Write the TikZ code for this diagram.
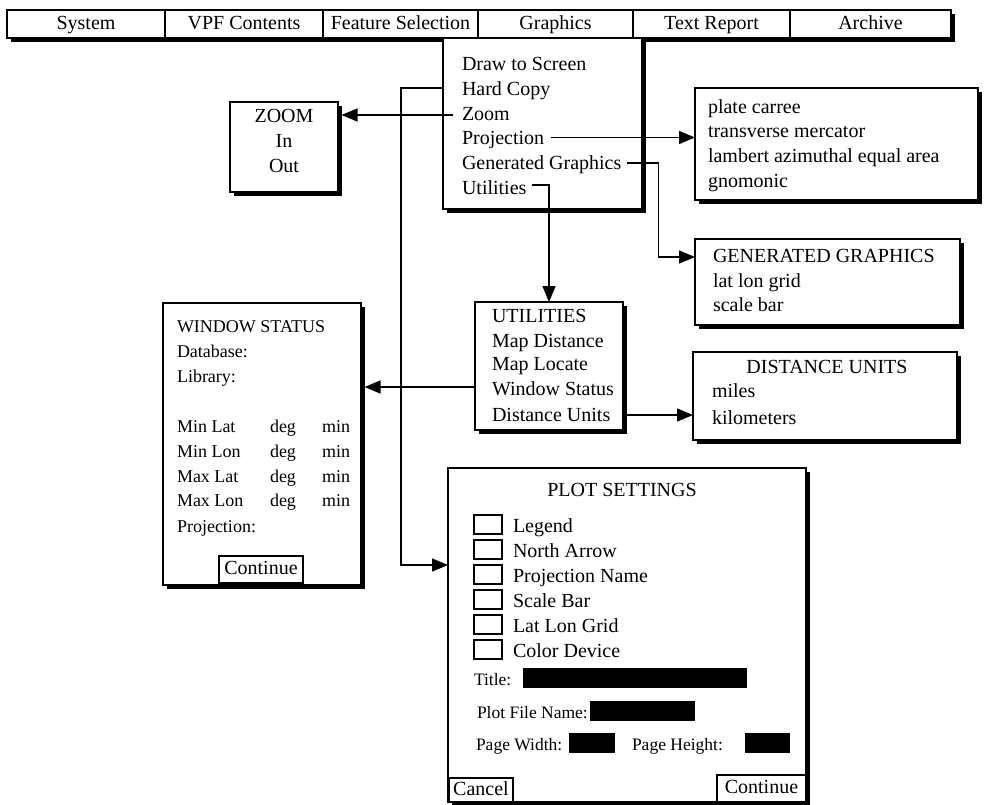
\documentclass[tikz,border=0pt]{standalone}
\usepackage{fontspec}
\setmainfont{Liberation Serif}
\usetikzlibrary{arrows.meta,shadows,calc}
\begin{document}
\begin{tikzpicture}[x=1pt,y=-1pt,
  font=\fontsize{20}{24}\selectfont,
  every node/.style={inner sep=0pt, outer sep=0pt},
  box/.style={draw, line width=1.6pt, fill=white, rectangle, anchor=north west,
    drop shadow={shadow xshift=3.5pt, shadow yshift=-3.5pt, opacity=1, fill=black}},
  plainbox/.style={draw, line width=1.4pt, fill=white, rectangle, anchor=north west,
    text height=14pt, text depth=4pt},
  cell/.style={plainbox, line width=1.6pt, minimum height=28},
  chk/.style={draw, line width=1.8pt, fill=white, rectangle, anchor=north west,
    minimum width=28, minimum height=19},
  field/.style={fill=black, rectangle, anchor=north west},
  lbl/.style={anchor=base west},
  clbl/.style={anchor=base},
  smallf/.style={font=\fontsize{18}{22}\selectfont},
  tinyf/.style={font=\fontsize{17.5}{21}\selectfont},
  conn/.style={line width=1.4pt},
  arr/.style={conn, -{Triangle[length=16pt,width=13pt]}},
]
\useasboundingbox[fill=white] (0,0) rectangle (990,804);

% ---------- menu bar ----------
\node[box, minimum width=944, minimum height=28] (bar) at (7,10) {};
\node[cell, minimum width=158] (msys) at (7,10) {System};
\node[cell, minimum width=158] (mvpf) at (165,10) {VPF Contents};
\node[cell, minimum width=155] (mfeat) at (323,10) {Feature Selection};
\node[cell, minimum width=155] (mgraph) at (478,10) {Graphics};
\node[cell, minimum width=157] (mtext) at (633,10) {Text Report};
\node[cell, minimum width=161] (march) at (790,10) {Archive};

% ---------- graphics drop-down ----------
\node[box, minimum width=199, minimum height=171] (gmenu) at (443,38) {};
\node[lbl] (idraw) at (462,70) {Draw to Screen};
\node[lbl] (ihard) at (462,95) {Hard Copy};
\node[lbl] (izoom) at (462,120) {Zoom};
\node[lbl] (iproj) at (462,144) {Projection};
\node[lbl] (igen) at (462,169) {Generated Graphics};
\node[lbl] (iutil) at (462,194) {Utilities};

% ---------- ZOOM box ----------
\node[box, minimum width=108, minimum height=90] (zoombox) at (230,102) {};
\node[clbl] (zt) at (284,122) {ZOOM};
\node[clbl] (zin) at (284,147) {In};
\node[clbl] (zout) at (284,172) {Out};

% ---------- projection box ----------
\node[box, minimum width=283, minimum height=112] (projbox) at (695,88) {};
\node[lbl] (p1) at (708,113) {plate carree};
\node[lbl] (p2) at (708,137) {transverse mercator};
\node[lbl] (p3) at (708,162) {lambert azimuthal equal area};
\node[lbl] (p4) at (708,187) {gnomonic};

% ---------- generated graphics box ----------
\node[box, minimum width=265, minimum height=86] (genbox) at (695,239) {};
\node[lbl] (g1) at (713,262) {GENERATED GRAPHICS};
\node[lbl] (g2) at (713,287) {lat lon grid};
\node[lbl] (g3) at (713,311) {scale bar};

% ---------- utilities box ----------
\node[box, minimum width=148, minimum height=128] (utilbox) at (475,302) {};
\node[lbl] (u1) at (492,322) {UTILITIES};
\node[lbl] (u2) at (492,347) {Map Distance};
\node[lbl] (u3) at (492,370) {Map Locate};
\node[lbl] (u4) at (492,395) {Window Status};
\node[lbl] (u5) at (492,421) {Distance Units};

% ---------- distance units box ----------
\node[box, minimum width=264, minimum height=88] (distbox) at (693,352) {};
\node[clbl] (d1) at (827,373) {DISTANCE UNITS};
\node[lbl] (d2) at (712,397) {miles};
\node[lbl] (d3) at (712,424) {kilometers};

% ---------- window status box ----------
\node[box, minimum width=198, minimum height=282] (wsbox) at (163,303) {};
\node[lbl, smallf] (w1) at (177,332) {WINDOW STATUS};
\node[lbl, smallf] (w2) at (177,357) {Database:};
\node[lbl, smallf] (w3) at (177,382) {Library:};
\node[lbl, smallf] (w4) at (177,432) {Min Lat};
\node[lbl, smallf] (w4d) at (270,432) {deg};
\node[lbl, smallf] (w4m) at (322,432) {min};
\node[lbl, smallf] (w5) at (177,457) {Min Lon};
\node[lbl, smallf] (w5d) at (270,457) {deg};
\node[lbl, smallf] (w5m) at (322,457) {min};
\node[lbl, smallf] (w6) at (177,482) {Max Lat};
\node[lbl, smallf] (w6d) at (270,482) {deg};
\node[lbl, smallf] (w6m) at (322,482) {min};
\node[lbl, smallf] (w7) at (177,506) {Max Lon};
\node[lbl, smallf] (w7d) at (270,506) {deg};
\node[lbl, smallf] (w7m) at (322,506) {min};
\node[lbl, smallf] (w8) at (177,532) {Projection:};
\node[plainbox, minimum width=84, minimum height=27] (wcont) at (219,556) {Continue};

% ---------- plot settings box ----------
\node[box, minimum width=358, minimum height=334] (plot) at (448,468) {};
\node[clbl] (pt) at (622,496) {PLOT SETTINGS};
\node[chk] (c1) at (474,515) {};
\node[lbl] (c1t) at (513,532) {Legend};
\node[chk] (c2) at (474,540) {};
\node[lbl] (c2t) at (513,557) {North Arrow};
\node[chk] (c3) at (474,565) {};
\node[lbl] (c3t) at (513,582) {Projection Name};
\node[chk] (c4) at (474,590) {};
\node[lbl] (c4t) at (513,607) {Scale Bar};
\node[chk] (c5) at (474,615) {};
\node[lbl] (c5t) at (513,632) {Lat Lon Grid};
\node[chk] (c6) at (474,640) {};
\node[lbl] (c6t) at (513,657) {Color Device};
\node[lbl, tinyf] (ttl) at (474,685) {Title:};
\node[field, minimum width=224, minimum height=20] (ttlf) at (523,668) {};
\node[lbl, tinyf] (pfn) at (477,718) {Plot File Name:};
\node[field, minimum width=105, minimum height=20] (pfnf) at (590,701) {};
\node[lbl, tinyf] (pw) at (476,750) {Page Width:};
\node[field, minimum width=46, minimum height=20] (pwf) at (569,733) {};
\node[lbl, tinyf] (ph) at (632,750) {Page Height:};
\node[field, minimum width=45, minimum height=20] (phf) at (745,733) {};
\node[plainbox, minimum width=64, minimum height=24] (pcancel) at (449,778) {Cancel};
\node[plainbox, minimum width=89, minimum height=27] (pcont) at (717,775) {Continue};

% ---------- connectors ----------
% Hard Copy -> PLOT SETTINGS
\draw[arr] ([yshift=-50pt]gmenu.north west) -- ++(-42,0) |- ([yshift=-97pt]plot.north west);
% Zoom -> ZOOM
\draw[arr] ([xshift=10pt,yshift=-77pt]gmenu.north west) -- ([xshift=3.5pt,yshift=-13pt]zoombox.north east);
% Projection -> projection list
\draw[arr] ([xshift=7pt,yshift=2pt]iproj.east) coordinate (p0) -- (p0 -| projbox.west);
% Generated Graphics -> GENERATED GRAPHICS
\draw[arr] ([xshift=6pt,yshift=1pt]igen.east) -- ++(31,0) |- ([yshift=-18pt]genbox.north west);
% Utilities -> UTILITIES
\draw[arr] ([xshift=6pt,yshift=2pt]iutil.east) -| (utilbox.north);
% Window Status -> WINDOW STATUS
\draw[arr] ([yshift=-85pt]utilbox.north west) -- ([xshift=3.5pt,yshift=-84pt]wsbox.north east);
% Distance Units -> DISTANCE UNITS
\draw[arr] ([xshift=3.5pt,yshift=-113pt]utilbox.north east) -- ([yshift=-63pt]distbox.north west);
\end{tikzpicture}
\end{document}
